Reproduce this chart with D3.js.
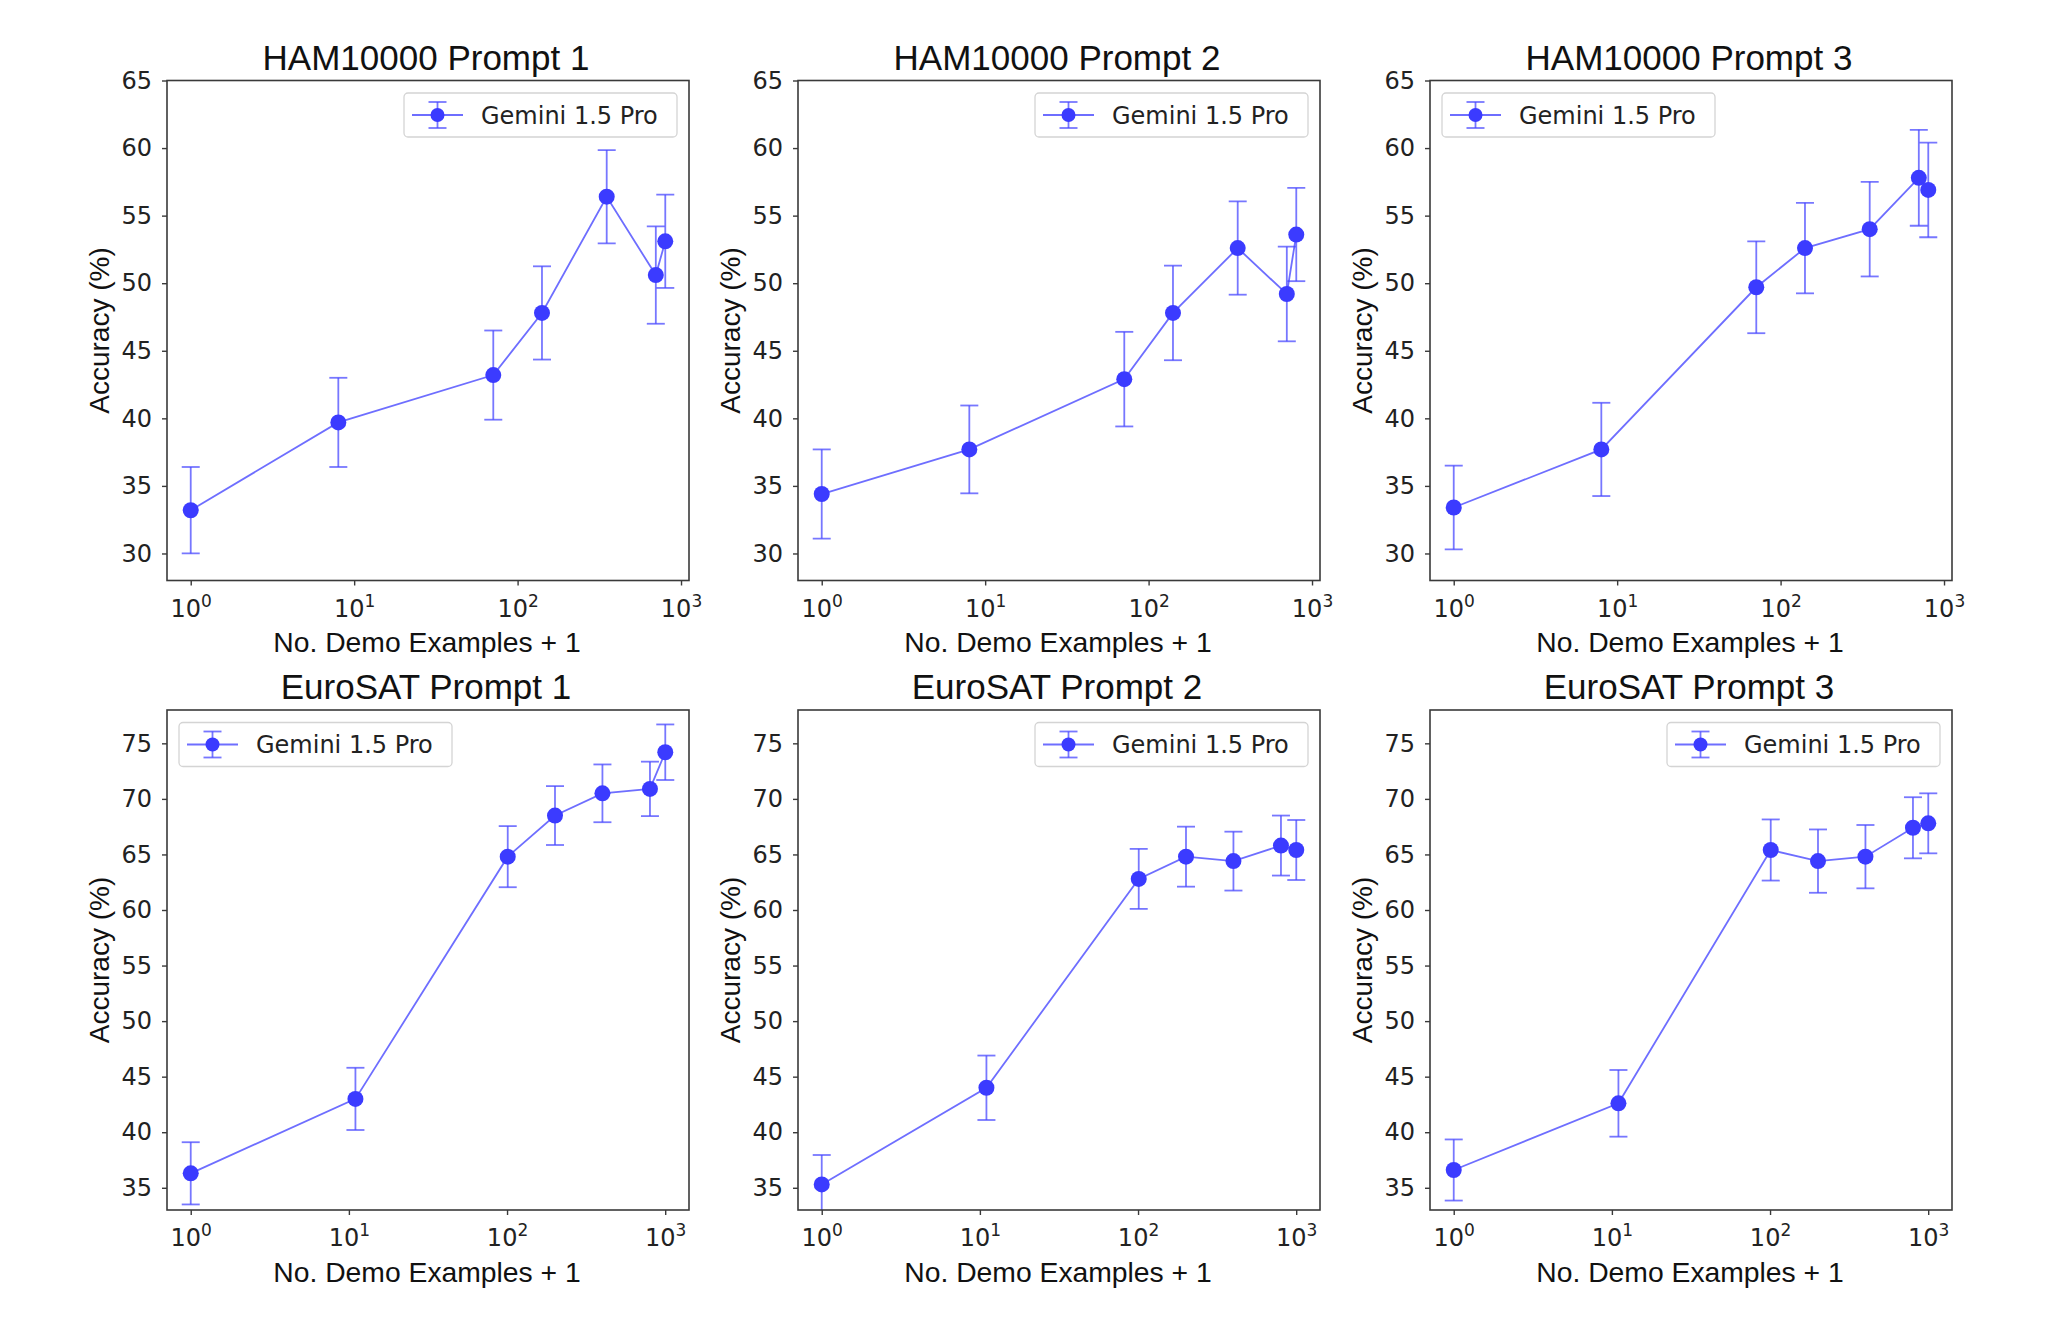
<!DOCTYPE html>
<html>
<head>
<meta charset="utf-8">
<script src="https://cdn.jsdelivr.net/npm/d3@7"></script>
<style>
  body { margin: 0; background: #fff; }
</style>
</head>
<body>
<svg id="fig" width="2048" height="1319"></svg>
<script>
// x = no. demo examples + 1
var hamX = [1, 8, 71, 141, 351, 701, 801];
var eurosatX = [1, 11, 101, 201, 401, 801, 1001];

var ham1 = [33.2, 39.7, 43.2, 47.8, 56.4, 50.6, 53.1];
var ham1Err = [3.2, 3.3, 3.3, 3.45, 3.45, 3.6, 3.45];
var ham2 = [34.4, 37.7, 42.9, 47.8, 52.6, 49.2, 53.6];
var ham2Err = [3.3, 3.25, 3.5, 3.5, 3.45, 3.5, 3.45];
var ham3 = [33.4, 37.7, 49.7, 52.6, 54.0, 57.8, 56.9];
var ham3Err = [3.1, 3.45, 3.4, 3.35, 3.5, 3.55, 3.5];

var euro1 = [36.3, 43.0, 64.8, 68.5, 70.5, 70.9, 74.2];
var euro1Err = [2.8, 2.8, 2.75, 2.65, 2.6, 2.45, 2.5];
var euro2 = [35.3, 44.0, 62.8, 64.8, 64.4, 65.8, 65.4];
var euro2Err = [2.65, 2.9, 2.7, 2.7, 2.65, 2.7, 2.7];
var euro3 = [36.6, 42.6, 65.4, 64.4, 64.8, 67.4, 67.8];
var euro3Err = [2.75, 3.0, 2.75, 2.85, 2.85, 2.75, 2.7];

var hamYDomain = [28, 65];
var hamYTicks = [30, 35, 40, 45, 50, 55, 60, 65];
var euroYDomain = [33, 78];
var euroYTicks = [35, 40, 45, 50, 55, 60, 65, 70, 75];
var xTicks = [1, 10, 100, 1000];

var seriesName = 'Gemini 1.5 Pro';
var xLabel = 'No. Demo Examples + 1';
var yLabel = 'Accuracy (%)';

var panels = [
  {title: 'HAM10000 Prompt 1', x: hamX, y: ham1, err: ham1Err, row: 0, col: 0, legend: 'right'},
  {title: 'HAM10000 Prompt 2', x: hamX, y: ham2, err: ham2Err, row: 0, col: 1, legend: 'right'},
  {title: 'HAM10000 Prompt 3', x: hamX, y: ham3, err: ham3Err, row: 0, col: 2, legend: 'left'},
  {title: 'EuroSAT Prompt 1', x: eurosatX, y: euro1, err: euro1Err, row: 1, col: 0, legend: 'left'},
  {title: 'EuroSAT Prompt 2', x: eurosatX, y: euro2, err: euro2Err, row: 1, col: 1, legend: 'right'},
  {title: 'EuroSAT Prompt 3', x: eurosatX, y: euro3, err: euro3Err, row: 1, col: 2, legend: 'right'}
];

var colLeft = [167, 798, 1430];
var rowTop = [80.5, 710];
var W = 522, H = 500;
var blue = '#3b3bff';
var lineBlue = '#4a4aff';
var spine = '#3a3a3a';
var arial = '"Liberation Sans", Arial, sans-serif';
var dejavu = '"DejaVu Sans", sans-serif';

var svg = d3.select('#fig');

function drawPanel(p, i) {
  var left = colLeft[p.col], top = rowTop[p.row];
  var g = svg.append('g').attr('transform', 'translate(' + left + ',' + top + ')');

  // log x with matplotlib style 5% margins
  var lo = Math.log10(d3.min(p.x)), hi = Math.log10(d3.max(p.x));
  var pad = 0.05 * (hi - lo);
  var x = d3.scaleLog().domain([Math.pow(10, lo - pad), Math.pow(10, hi + pad)]).range([0, W]);
  var y = d3.scaleLinear().domain(p.row == 0 ? hamYDomain : euroYDomain).range([H, 0]);
  var yt = p.row == 0 ? hamYTicks : euroYTicks;

  g.append('clipPath').attr('id', 'clip' + i)
    .append('rect').attr('width', W).attr('height', H);

  var plot = g.append('g').attr('clip-path', 'url(#clip' + i + ')');

  var line = d3.line().x(function(d, k) { return x(p.x[k]); }).y(function(d) { return y(d); });
  plot.append('path').datum(p.y)
    .attr('d', line)
    .attr('fill', 'none')
    .attr('stroke', lineBlue)
    .attr('stroke-opacity', 0.8)
    .attr('stroke-width', 1.8);

  var bars = plot.selectAll('.eb').data(p.y).enter().append('g').attr('class', 'eb')
    .attr('stroke', lineBlue).attr('stroke-opacity', 0.75).attr('stroke-width', 1.8);
  bars.append('line')
    .attr('x1', function(d, k) { return x(p.x[k]); })
    .attr('x2', function(d, k) { return x(p.x[k]); })
    .attr('y1', function(d, k) { return y(d - p.err[k]); })
    .attr('y2', function(d, k) { return y(d + p.err[k]); });
  [-1, 1].forEach(function(s) {
    bars.append('line')
      .attr('x1', function(d, k) { return x(p.x[k]) - 9; })
      .attr('x2', function(d, k) { return x(p.x[k]) + 9; })
      .attr('y1', function(d, k) { return y(d + s * p.err[k]); })
      .attr('y2', function(d, k) { return y(d + s * p.err[k]); });
  });

  plot.selectAll('.pt').data(p.y).enter().append('circle').attr('class', 'pt')
    .attr('cx', function(d, k) { return x(p.x[k]); })
    .attr('cy', function(d) { return y(d); })
    .attr('r', 8)
    .attr('fill', blue);

  // axes
  var ya = g.append('g').call(d3.axisLeft(y).tickValues(yt).tickSize(5).tickPadding(10).tickFormat(d3.format('d')));
  ya.select('.domain').remove();
  ya.selectAll('line').attr('stroke', spine).attr('stroke-width', 1.4);
  ya.selectAll('text').attr('font-family', dejavu).attr('font-size', 24).attr('fill', '#222');

  var xa = g.append('g').attr('transform', 'translate(0,' + H + ')')
    .call(d3.axisBottom(x).tickValues(xTicks).tickSize(5).tickFormat(''));
  xa.select('.domain').remove();
  xa.selectAll('line').attr('stroke', spine).attr('stroke-width', 1.4);
  xa.selectAll('.tick').each(function(d) {
    var t = d3.select(this).append('text')
      .attr('y', 36).attr('text-anchor', 'middle')
      .attr('font-family', dejavu).attr('font-size', 24).attr('fill', '#222');
    t.append('tspan').text('10');
    t.append('tspan').attr('dy', -10).attr('font-size', 17).text(Math.round(Math.log10(d)));
  });

  g.append('rect').attr('width', W).attr('height', H)
    .attr('fill', 'none').attr('stroke', spine).attr('stroke-width', 1.6);

  g.append('text').attr('x', W / 2 - 2).attr('y', -11).attr('text-anchor', 'middle')
    .attr('font-family', arial).attr('font-size', 35).attr('fill', '#111').text(p.title);
  g.append('text').attr('x', W / 2 - 1).attr('y', H + 71.5).attr('text-anchor', 'middle')
    .attr('font-family', arial).attr('font-size', 28.3).attr('fill', '#111').text(xLabel);
  g.append('text').attr('transform', 'translate(' + (-58) + ',' + (H / 2) + ') rotate(-90)')
    .attr('text-anchor', 'middle').attr('font-family', arial).attr('font-size', 28)
    .attr('fill', '#111').text(yLabel);

  // legend
  var lw = 273, lh = 44;
  var lx = p.legend == 'right' ? W - 12 - lw : 12;
  var lg = g.append('g').attr('transform', 'translate(' + lx + ',12.5)');
  lg.append('rect').attr('width', lw).attr('height', lh).attr('rx', 4)
    .attr('fill', '#fff').attr('fill-opacity', 0.8).attr('stroke', '#d4d4d4').attr('stroke-width', 1.3);
  var hy = lh / 2;
  lg.append('line').attr('x1', 8).attr('x2', 59).attr('y1', hy).attr('y2', hy)
    .attr('stroke', lineBlue).attr('stroke-opacity', 0.8).attr('stroke-width', 1.8);
  var eg = lg.append('g').attr('stroke', lineBlue).attr('stroke-opacity', 0.75).attr('stroke-width', 1.8);
  eg.append('line').attr('x1', 33.5).attr('x2', 33.5).attr('y1', hy - 13).attr('y2', hy + 13);
  eg.append('line').attr('x1', 24.5).attr('x2', 42.5).attr('y1', hy - 13).attr('y2', hy - 13);
  eg.append('line').attr('x1', 24.5).attr('x2', 42.5).attr('y1', hy + 13).attr('y2', hy + 13);
  lg.append('circle').attr('cx', 33.5).attr('cy', hy).attr('r', 7).attr('fill', blue);
  lg.append('text').attr('x', 77).attr('y', hy + 8.5)
    .attr('font-family', dejavu).attr('font-size', 24).attr('fill', '#222').text(seriesName);
}

panels.forEach(drawPanel);
</script>
</body>
</html>
